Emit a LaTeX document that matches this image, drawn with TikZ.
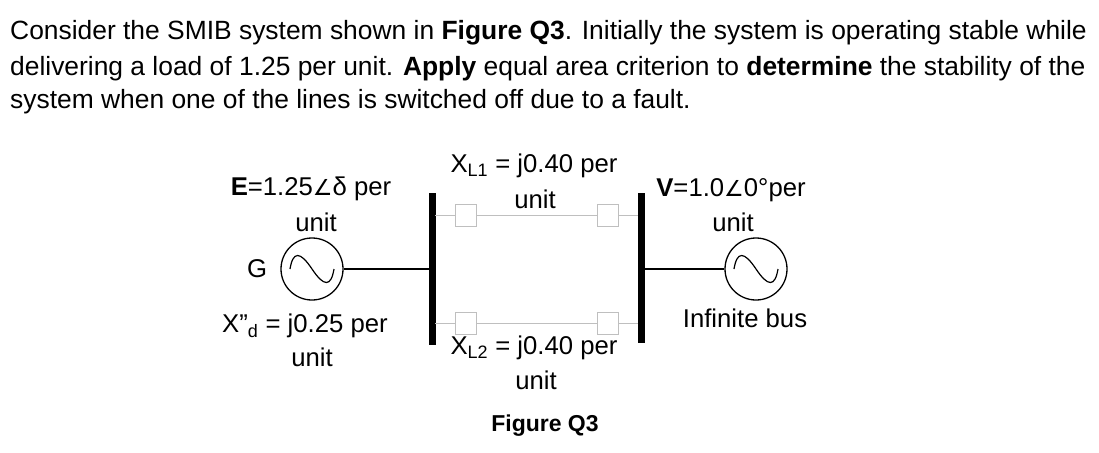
\documentclass[tikz,border=0pt]{standalone}
\usepackage{fontspec}
\setmainfont{Liberation Sans}
\newfontfamily\djv{DejaVu Sans}
\newcommand{\ang}{{\djv\fontsize{22}{24}\selectfont ∠}}
\begin{document}
\begin{tikzpicture}[x=1pt,y=-1pt,
  lbl/.style={font=\fontsize{25.7}{28}\selectfont,inner sep=0pt,anchor=center},
  txt/.style={font=\fontsize{26.4}{28}\selectfont,inner sep=0pt,anchor=west},
  busbar/.style={line width=7pt},
  tline/.style={draw=black!25,line width=1pt},
  brk/.style={draw=black!25,fill=white,line width=1pt,minimum width=21pt,minimum height=22pt,inner sep=0pt},
  mach/.style={draw,circle,line width=1.3pt,minimum size=62pt,inner sep=0pt}]
\useasboundingbox (0,0) rectangle (1099,452);
\node[txt] (t1) at (10,33) {Consider the SMIB system shown in \textbf{Figure Q3}. Initially the system is operating stable while};
\node[txt] (t2) at (10,69) {delivering a load of 1.25 per unit. \textbf{Apply} equal area criterion to \textbf{determine} the stability of the};
\node[txt] (t3) at (10,102) {system when one of the lines is switched off due to a fault.};
% buses
\coordinate (b1t) at (432,193); \coordinate (b1b) at (432,345);
\coordinate (b2t) at (641,193); \coordinate (b2b) at (641,343);
\draw[busbar] (b1t) -- (b1b);
\draw[busbar] (b2t) -- (b2b);
% lines
\coordinate (l1a) at (435,215); \coordinate (l1b) at (638,215);
\coordinate (l2a) at (435,323); \coordinate (l2b) at (638,323);
\draw[tline] (l1a) -- (l1b);
\draw[tline] (l2a) -- (l2b);
\node[brk] (k1) at (466,215) {};
\node[brk] (k2) at (608,215) {};
\node[brk] (k3) at (466,323) {};
\node[brk] (k4) at (608,323) {};
% machines
\node[mach] (g) at (312,269) {};
\draw[line width=1.2pt] (g.center) ++(-22,0) .. controls +(3,-18) and +(-12,-18) .. ++(22,0) .. controls +(12,18) and +(-3,18) .. ++(22,0);
\node[mach] (ib) at (756,269) {};
\draw[line width=1.2pt] (ib.center) ++(-22,0) .. controls +(3,-18) and +(-12,-18) .. ++(22,0) .. controls +(12,18) and +(-3,18) .. ++(22,0);
\coordinate (gb) at (432,269); \coordinate (ibb) at (641,269);
\draw[line width=1.1pt] (g.east) -- (gb);
\draw[line width=1.1pt] (ibb) -- (ib.west);
% labels
\node[lbl] (G) at (257,269) {G};
\node[lbl] (e1) at (311,189) {\textbf{E}=1.25\ang δ per};
\node[lbl] (e2) at (316,222) {unit};
\node[lbl] (x1) at (534,166) {X\textsubscript{L1} = j0.40 per};
\node[lbl] (x1b) at (535,199) {unit};
\node[lbl] (v1) at (731,190) {\textbf{V}=1.0\ang 0°per};
\node[lbl] (v2) at (733,222) {unit};
\node[lbl] (xd) at (305,326) {X"\textsubscript{d} = j0.25 per};
\node[lbl] (xd2) at (312,357) {unit};
\node[lbl] (x2) at (534,348) {X\textsubscript{L2} = j0.40 per};
\node[lbl] (x2b) at (536,380) {unit};
\node[lbl] (inf) at (745,318) {Infinite bus};
\node[lbl,font=\bfseries\fontsize{23}{26}\selectfont] (fig) at (545,426) {Figure Q3};
\end{tikzpicture}
\end{document}
